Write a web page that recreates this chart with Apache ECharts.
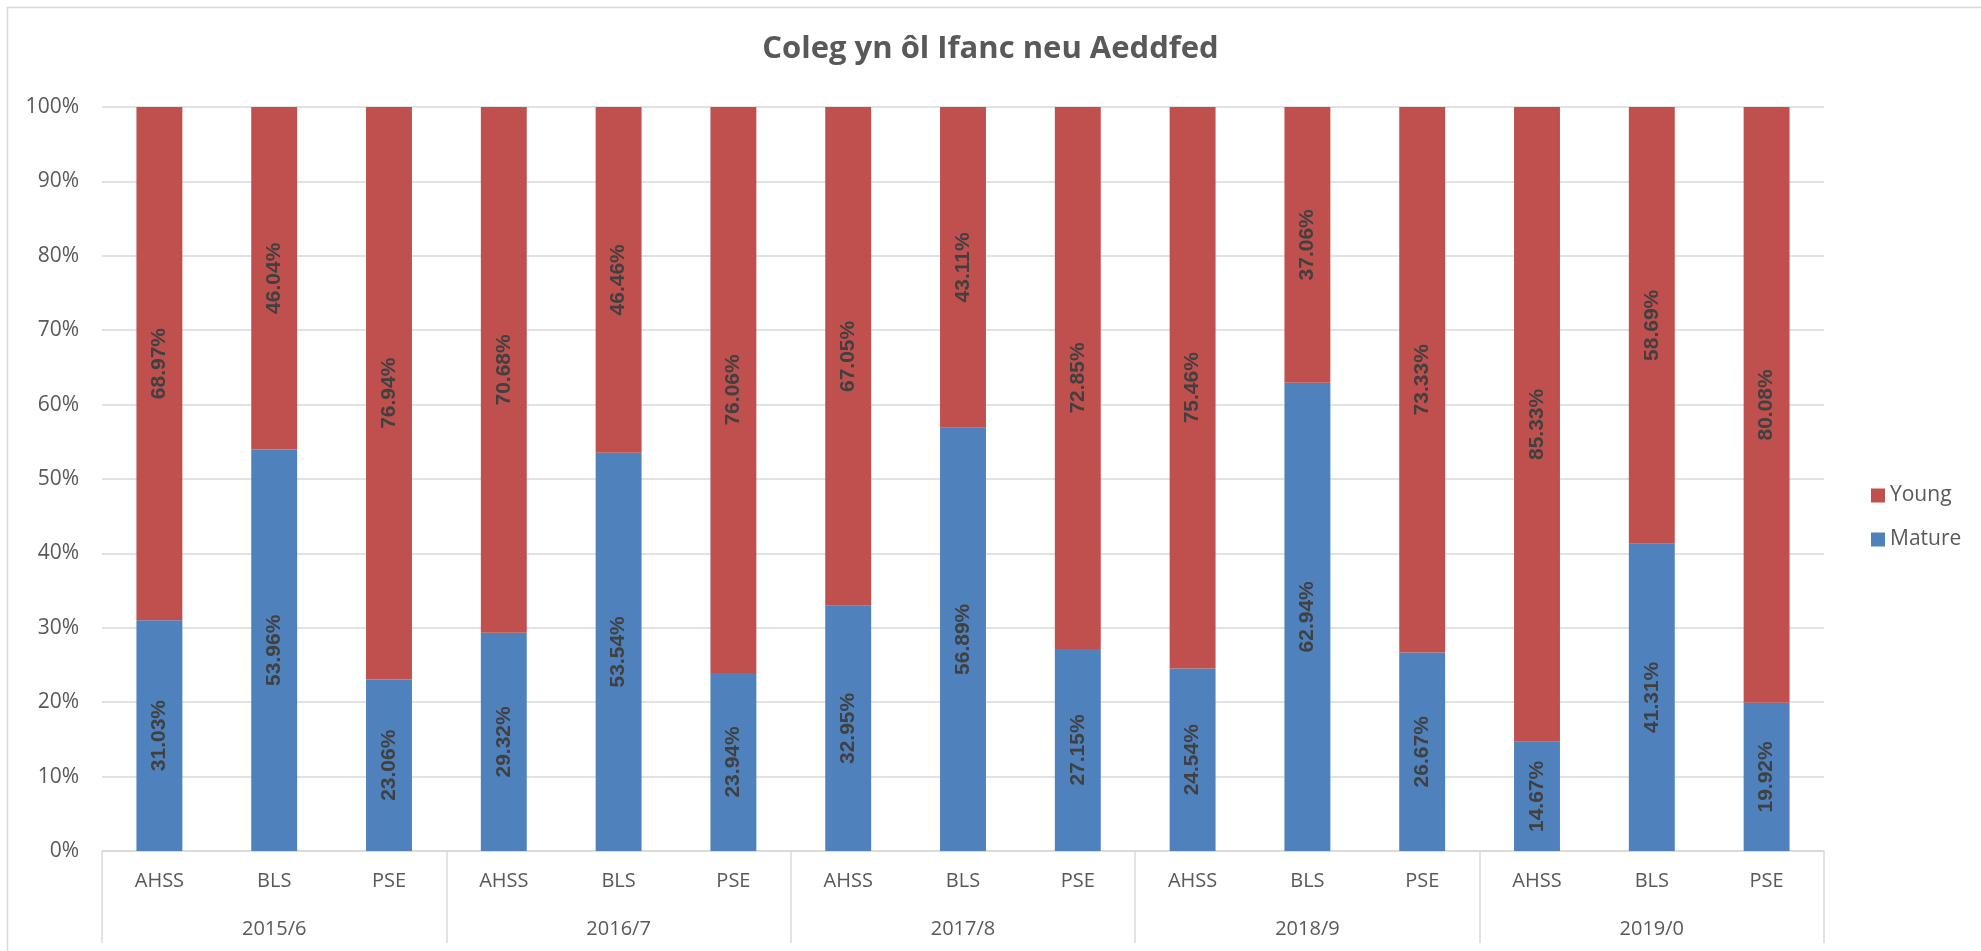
<!DOCTYPE html>
<html>
<head>
<meta charset="utf-8">
<script src="https://cdn.jsdelivr.net/npm/echarts@6/dist/echarts.min.js"></script>
<style>html,body{margin:0;padding:0;background:#fff;}#c{width:1981px;height:951px;}</style>
</head>
<body>
<div id="c"></div>
<script>
var titleText = 'Coleg yn ôl Ifanc neu Aeddfed';
var subjects = ['AHSS','BLS','PSE','AHSS','BLS','PSE','AHSS','BLS','PSE','AHSS','BLS','PSE','AHSS','BLS','PSE'];
var years = ['2015/6','2016/7','2017/8','2018/9','2019/0'];
var matureValues = [31.03,53.96,23.06,29.32,53.54,23.94,32.95,56.89,27.15,24.54,62.94,26.67,14.67,41.31,19.92];
var youngValues = [68.97,46.04,76.94,70.68,46.46,76.06,67.05,43.11,72.85,75.46,37.06,73.33,85.33,58.69,80.08];
var yTicks = {min:0, max:100, interval:10};

var chart = echarts.init(document.getElementById('c'), null, {renderer:'canvas'});
var font = "'Open Sans', sans-serif";
var labelCfg = {
  show:true, position:'inside', rotate:90,
  fontFamily:"'Liberation Sans', Arial, sans-serif", fontWeight:'bold', fontSize:21, color:'#404040',
  formatter:function(p){return p.value.toFixed(2)+'%';}
};
chart.setOption({
  animation:false,
  backgroundColor:'#fff',
  title:{text:titleText, left:'center', top:34, padding:0,
    textStyle:{fontFamily:font, fontWeight:'bold', fontSize:31, color:'#595959'}},
  legend:{data:['Young','Mature'], orient:'vertical', left:1866, top:480, itemWidth:14, itemHeight:14, itemGap:23,
    icon:'rect', textStyle:{fontFamily:font, fontSize:21, color:'#595959'}},
  grid:{left:102, right:157, top:107, bottom:100, containLabel:false},
  xAxis:[
    {type:'category', data:subjects, position:'bottom',
     axisLine:{show:true, lineStyle:{color:'#d9d9d9', width:1.5}},
     axisTick:{show:false},
     axisLabel:{margin:20, fontFamily:font, fontSize:20, color:'#595959', interval:0}},
    {type:'category', data:years, position:'bottom',
     axisLine:{show:false},
     axisTick:{show:true, length:92, lineStyle:{color:'#d9d9d9', width:1.5}},
     axisLabel:{margin:68, fontFamily:font, fontSize:20, color:'#595959', interval:0}}
  ],
  yAxis:{type:'value', min:yTicks.min, max:yTicks.max, interval:yTicks.interval,
    axisLine:{show:false}, axisTick:{show:false},
    splitLine:{lineStyle:{color:'#d9d9d9', width:1.5}},
    axisLabel:{formatter:'{value}%', margin:23, fontFamily:font, fontSize:21, color:'#595959'}},
  series:[
    {name:'Mature', type:'bar', stack:'a', data:matureValues, barCategoryGap:'60%',
     itemStyle:{color:'#4F81BD'}, label:labelCfg},
    {name:'Young', type:'bar', stack:'a', data:youngValues, barCategoryGap:'60%',
     itemStyle:{color:'#C0504D'}, label:labelCfg}
  ],
  graphic:[{type:'rect', shape:{x:7.5, y:7.5, width:2000, height:1000}, silent:true,
    style:{fill:null, stroke:'#d9d9d9', lineWidth:1.5}}]
});
</script>
</body>
</html>
